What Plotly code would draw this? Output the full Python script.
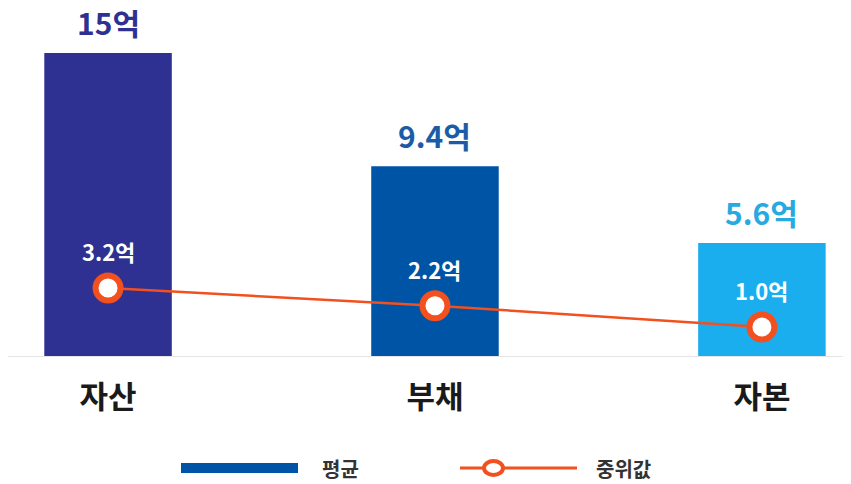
import plotly.graph_objects as go

# Data (unit: 억 원)
categories = ["자산", "부채", "자본"]
mean_values = [15, 9.4, 5.6]
median_values = [3.2, 2.2, 1.0]
bar_colors = ["#2E3192", "#0054A6", "#1AAEEF"]
label_colors = ["#2E3192", "#1B5CA8", "#27A9E1"]
line_color = "#F2501E"
FONT = "Noto Sans CJK KR"

W, H = 851, 484
ML, MR, MT, MB = 8, 8, 10, 128

fig = go.Figure()

fig.add_trace(go.Bar(
    x=categories, y=mean_values, name="평균",
    marker=dict(color=bar_colors, line=dict(width=0)),
    width=0.39, showlegend=False, hoverinfo="skip",
))

fig.add_trace(go.Scatter(
    x=categories, y=median_values, name="중위값", yaxis="y2",
    mode="lines+markers",
    line=dict(color=line_color, width=2.5),
    marker=dict(size=25, color="white", line=dict(color=line_color, width=6)),
    showlegend=False, hoverinfo="skip", cliponaxis=False,
))

annotations = []
for cat, v, c in zip(categories, mean_values, label_colors):
    annotations.append(dict(
        x=cat, y=v, xref="x", yref="y", text=f"<b>{v:g}억</b>",
        showarrow=False, yanchor="middle", yshift=31,
        font=dict(family=FONT, size=30, color=c),
    ))
for cat, v in zip(categories, median_values):
    annotations.append(dict(
        x=cat, y=v, xref="x", yref="y2", text=f"<b>{v:.1f}억</b>",
        showarrow=False, yanchor="middle", yshift=37,
        font=dict(family=FONT, size=22, color="white"),
    ))

# Custom legend below the chart (pixel positions converted to paper coords)
pw, ph = W - ML - MR, H - MT - MB


def px(x):
    return (x - ML) / pw


def py(y):
    return (H - MB - y) / ph


leg_y = 468
shapes = [
    dict(type="line", xref="paper", yref="paper",
         x0=px(181), x1=px(298), y0=py(leg_y), y1=py(leg_y),
         line=dict(color="#0054A6", width=10)),
    dict(type="line", xref="paper", yref="paper",
         x0=px(460), x1=px(577), y0=py(leg_y), y1=py(leg_y),
         line=dict(color=line_color, width=3)),
    dict(type="circle", xref="paper", yref="paper",
         x0=px(484), x1=px(503), y0=py(leg_y - 7), y1=py(leg_y + 7),
         fillcolor="white", line=dict(color=line_color, width=4)),
]
annotations += [
    dict(xref="paper", yref="paper", x=px(320), y=py(leg_y), text="<b>평균</b>",
         showarrow=False, xanchor="left", yanchor="middle",
         font=dict(family=FONT, size=20, color="#333333")),
    dict(xref="paper", yref="paper", x=px(594), y=py(leg_y), text="<b>중위값</b>",
         showarrow=False, xanchor="left", yanchor="middle",
         font=dict(family=FONT, size=20, color="#333333")),
]

fig.update_layout(
    width=W, height=H,
    margin=dict(l=ML, r=MR, t=MT, b=MB),
    paper_bgcolor="white", plot_bgcolor="white",
    font=dict(family=FONT),
    showlegend=False,
    xaxis=dict(
        range=[-0.306, 2.248], showgrid=False, zeroline=False,
        showline=True, linecolor="#E6E6E6", linewidth=1,
        ticks="", ticklabelstandoff=14,
        tickfont=dict(family=FONT, size=31, color="#1A1A1A", weight="bold"),
    ),
    yaxis=dict(range=[0, 17.13], visible=False, showgrid=False, zeroline=False),
    yaxis2=dict(range=[-0.64, 18.9], overlaying="y", visible=False,
                showgrid=False, zeroline=False),
    annotations=annotations,
    shapes=shapes,
)

fig.write_html("out.html")
